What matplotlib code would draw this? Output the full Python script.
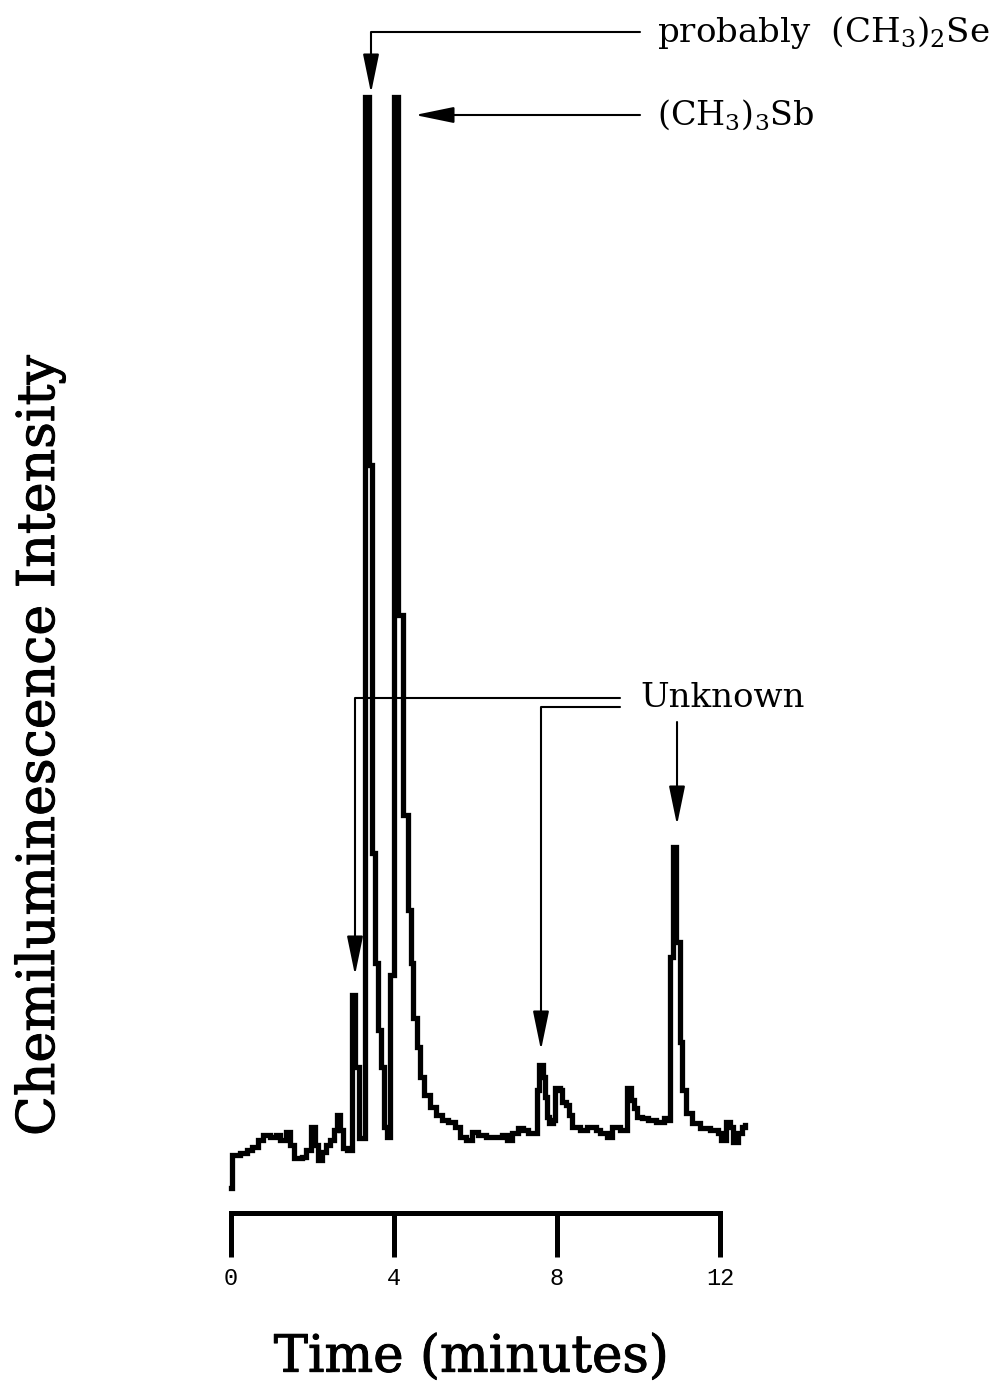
import matplotlib
matplotlib.use("Agg")
import matplotlib.pyplot as plt
import matplotlib.patheffects as pe

plt.rcParams['font.family'] = ['DejaVu Serif']
plt.rcParams['mathtext.fontset'] = 'dejavuserif'

# ---- data (time in minutes, chemiluminescence intensity in arbitrary units) ----
time_min = [0.000, 0.025, 0.221, 0.393, 0.515, 0.663, 0.785, 0.957, 1.104, 1.202,
            1.350, 1.448, 1.546, 1.742, 1.840, 1.963, 2.061, 2.135, 2.233, 2.331,
            2.429, 2.528, 2.601, 2.675, 2.748, 2.847, 2.945, 2.969, 3.043, 3.141,
            3.288, 3.387, 3.460, 3.534, 3.607, 3.681, 3.755, 3.828, 3.902, 3.988,
            4.110, 4.221, 4.344, 4.417, 4.466, 4.564, 4.638, 4.736, 4.883, 5.031,
            5.178, 5.325, 5.497, 5.620, 5.767, 5.914, 6.061, 6.258, 6.479, 6.650,
            6.773, 6.896, 7.043, 7.166, 7.288, 7.460, 7.509, 7.558, 7.656, 7.706,
            7.755, 7.804, 7.902, 7.951, 8.074, 8.123, 8.221, 8.294, 8.368, 8.564,
            8.736, 8.957, 9.055, 9.227, 9.350, 9.546, 9.718, 9.816, 9.890, 9.963,
            10.086, 10.233, 10.429, 10.626, 10.724, 10.773, 10.847, 10.920, 11.018, 11.067,
            11.166, 11.313, 11.509, 11.755, 11.951, 12.025, 12.147, 12.245, 12.319, 12.442,
            12.540, 12.613]
intensity = [2, 35, 37, 40, 43, 50, 55, 53, 55, 50,
             58, 45, 32, 33, 40, 63, 45, 30, 38, 45,
             50, 60, 75, 60, 42, 40, 40, 195, 123, 52,
             1093, 725, 337, 227, 160, 123, 63, 53, 215, 1093,
             575, 375, 280, 227, 172, 143, 113, 95, 83, 75,
             70, 68, 63, 53, 50, 58, 55, 53, 53, 55,
             50, 57, 62, 60, 57, 57, 100, 125, 113, 93,
             73, 67, 70, 102, 100, 88, 85, 75, 63, 60,
             63, 60, 57, 53, 63, 60, 102, 90, 82, 73,
             72, 70, 68, 72, 70, 233, 343, 248, 148, 100,
             77, 67, 62, 60, 57, 50, 68, 63, 48, 57,
             63, 65]

tick_values = [0, 4, 8, 12]
tick_labels = ["0", "4", "8", "12"]

x_label = "Time (minutes)"
y_label = "Chemiluminescence Intensity"
se_label = r"probably  (CH$_3$)$_2$Se"
sb_label = r"(CH$_3$)$_3$Sb"
unk_label = "Unknown"

# ---- figure ----
fig = plt.figure(figsize=(10, 13.87), dpi=100)
ax = fig.add_axes([0, 0.12545, 1, 0.87455])
ax.set_xlim(-5.669, 18.871)
ax.set_ylim(-23, 1190)

ax.plot(time_min, intensity, drawstyle='steps-post', color='black', lw=3.8,
        solid_joinstyle='miter', clip_on=False)

for s in ['left', 'right', 'top']:
    ax.spines[s].set_visible(False)
ax.spines['bottom'].set_linewidth(3.6)
ax.spines['bottom'].set_bounds(0, 12)
ax.spines['bottom'].set_capstyle('projecting')
ax.set_yticks([])
ax.set_xticks(tick_values)
ax.set_xticklabels(tick_labels, family='Liberation Mono', fontsize=17)
ax.tick_params(axis='x', direction='out', length=32, width=3.6, pad=7)

heavy = [pe.withStroke(linewidth=0.7, foreground='black')]
ax.set_xlabel(x_label, fontsize=37, va='center', path_effects=heavy)
ax.xaxis.set_label_coords(0.471, -0.1195)
ax.set_ylabel(y_label, fontsize=37.5, va='center', path_effects=heavy)
ax.yaxis.set_label_coords(0.040, 0.3858)

arrow_kw = dict(arrowstyle='-|>,head_length=1.6,head_width=0.33', color='black',
                lw=1.5, shrinkA=0, shrinkB=0, mutation_scale=15)
angle_cs = 'angle,angleA=0,angleB=90,rad=0'

# Se peak
ax.annotate('', xy=(3.436, 1097), xytext=(10.037, 1158),
            arrowprops=dict(connectionstyle=angle_cs, **arrow_kw), annotation_clip=False)
ax.text(10.454, 1158, se_label, fontsize=24.5, ha='left', va='center')

# Sb peak
ax.annotate('', xy=(4.515, 1075), xytext=(10.037, 1075), arrowprops=dict(**arrow_kw),
            annotation_clip=False)
ax.text(10.454, 1075, sb_label, fontsize=24, ha='left', va='center')

# Unknown peaks
ax.text(10.037, 492, unk_label, fontsize=24.5, ha='left', va='center')
ax.annotate('', xy=(3.043, 215), xytext=(9.546, 492),
            arrowprops=dict(connectionstyle=angle_cs, **arrow_kw), annotation_clip=False)
ax.annotate('', xy=(7.607, 140), xytext=(9.546, 483),
            arrowprops=dict(connectionstyle=angle_cs, **arrow_kw), annotation_clip=False)
ax.annotate('', xy=(10.945, 365), xytext=(10.945, 468), arrowprops=dict(**arrow_kw),
            annotation_clip=False)

fig.savefig("out.png", dpi=100)
